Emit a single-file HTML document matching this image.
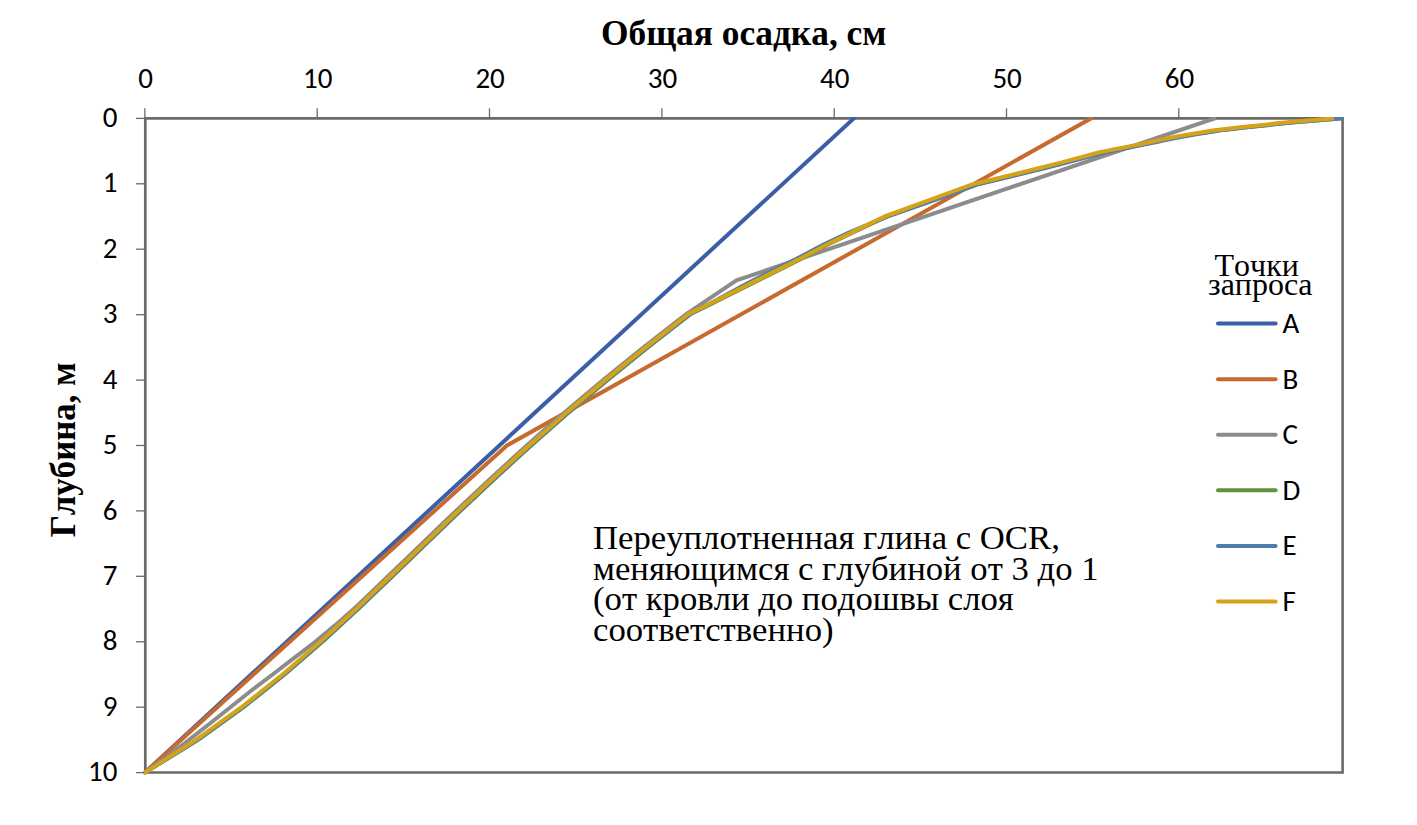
<!DOCTYPE html>
<html><head><meta charset="utf-8"><style>
html,body{margin:0;padding:0;background:#fff;width:1417px;height:825px;overflow:hidden}
svg{display:block}
text{font-kerning:none}
.ax text{font-family:Carlito,"Liberation Sans",sans-serif;font-size:29px;fill:#000}
.lg{font-family:Carlito,"Liberation Sans",sans-serif;font-size:29px;fill:#000}
.ser{font-family:"Liberation Serif","Times New Roman",serif;fill:#000}
</style></head><body>
<svg width="1417" height="825" viewBox="0 0 1417 825">
<rect width="1417" height="825" fill="#fff"/>
<g stroke="#6A6A6A" stroke-width="1.3"><line x1="144.9" y1="108.3" x2="144.9" y2="118.4"/><line x1="317.2" y1="108.3" x2="317.2" y2="118.4"/><line x1="489.5" y1="108.3" x2="489.5" y2="118.4"/><line x1="661.9" y1="108.3" x2="661.9" y2="118.4"/><line x1="834.2" y1="108.3" x2="834.2" y2="118.4"/><line x1="1006.5" y1="108.3" x2="1006.5" y2="118.4"/><line x1="1178.8" y1="108.3" x2="1178.8" y2="118.4"/><line x1="136" y1="118.4" x2="145.3" y2="118.4"/><line x1="136" y1="183.8" x2="145.3" y2="183.8"/><line x1="136" y1="249.2" x2="145.3" y2="249.2"/><line x1="136" y1="314.7" x2="145.3" y2="314.7"/><line x1="136" y1="380.1" x2="145.3" y2="380.1"/><line x1="136" y1="445.5" x2="145.3" y2="445.5"/><line x1="136" y1="510.9" x2="145.3" y2="510.9"/><line x1="136" y1="576.3" x2="145.3" y2="576.3"/><line x1="136" y1="641.8" x2="145.3" y2="641.8"/><line x1="136" y1="707.2" x2="145.3" y2="707.2"/><line x1="136" y1="772.6" x2="145.3" y2="772.6"/></g>

<g stroke="#6A6A6A" fill="none">
<line x1="145.3" y1="118.4" x2="1342.6" y2="118.4" stroke-width="2.6"/>
<line x1="145.3" y1="117.1" x2="145.3" y2="773.7" stroke-width="2.7"/>
<line x1="1342.6" y1="117.1" x2="1342.6" y2="773.7" stroke-width="2.6"/>
<line x1="145.3" y1="772.5" x2="1342.6" y2="772.5" stroke-width="2.4"/>
</g>
<defs><clipPath id="pc"><rect x="143.6" y="116.9" width="1200.5" height="657.3"/></clipPath></defs>
<g fill="none" stroke-linejoin="round" stroke-linecap="square" stroke-width="4" clip-path="url(#pc)">
<path d="M144.9,772.6 L853.8,118.4" stroke="#3B5FA6"/>
<path d="M144.9,772.6 L506.9,445.5 L1091.0,118.4" stroke="#C66A2D"/>
<path d="M144.9,772.6 L167.8,756.2 L189.0,739.9 L209.9,723.5 L230.4,707.2 L251.1,690.8 L272.6,674.5 L293.9,658.1 L315.3,641.8 L335.0,625.4 L353.6,609.1 L370.9,592.7 L388.0,576.3 L405.0,560.0 L421.9,543.6 L438.9,527.3 L456.0,510.9 L473.3,494.6 L490.9,478.2 L508.7,461.9 L526.8,445.5 L545.3,429.1 L564.2,412.8 L583.4,396.4 L603.1,380.1 L623.1,363.7 L643.5,347.4 L686.9,313.6 L736.4,280.4 L1214.5,118.4" stroke="#8C8C8C"/>
<path d="M1338.8,118.4 L1323.6,119.7 L1308.4,121.0 L1293.2,122.3 L1280.6,123.6 L1267.9,124.9 L1255.4,126.3 L1242.9,127.6 L1230.4,128.9 L1218.9,130.2 L1211.3,131.5 L1203.6,132.8 L1195.1,134.1 L1186.7,135.4 L1179.3,136.7 L1172.9,138.0 L1166.6,139.3 L1160.4,140.6 L1154.2,142.0 L1147.9,143.3 L1141.6,144.6 L1135.1,145.9 L1128.5,147.2 L1122.0,148.5 L1115.4,149.8 L1108.9,151.1 L1102.9,152.3 L1063.5,162.9 L1045.1,167.5 L1003.4,177.8 L978.3,183.8 L975.1,184.6 L932.6,200.2 L886.7,216.5 L886.5,216.6 L851.9,232.9 L828.1,244.5 L819.3,249.2 L801.3,258.8 L787.7,265.6 L755.1,282.0 L752.6,283.2 L722.5,298.3 L709.2,305.0 L691.2,313.6 L647.8,347.4 L607.4,380.1 L568.5,412.8 L531.2,445.5 L495.3,478.2 L460.5,510.9 L426.4,543.6 L392.5,576.3 L358.1,609.1 L322.5,641.8 L284.6,674.5 L243.6,707.2 L198.1,739.9 L144.9,772.6" stroke="#5F933E"/>
<path d="M1340.9,118.4 L1325.6,119.7 L1310.3,121.0 L1295.1,122.3 L1282.3,123.6 L1269.6,124.9 L1257.2,126.3 L1244.8,127.6 L1232.4,128.9 L1221.0,130.2 L1213.4,131.5 L1205.8,132.8 L1197.5,134.1 L1189.2,135.4 L1181.8,136.7 L1175.5,138.0 L1169.2,139.3 L1163.0,140.6 L1156.7,142.0 L1150.4,143.3 L1144.1,144.6 L1137.6,145.9 L1131.0,147.2 L1124.4,148.5 L1117.9,149.8 L1111.3,151.1 L1105.4,152.3 L1065.7,162.9 L1047.3,167.5 L1005.5,177.8 L980.3,183.8 L977.1,184.6 L934.4,200.2 L887.2,216.5 L887.0,216.6 L848.3,232.9 L823.6,244.5 L814.6,249.2 L796.6,258.8 L782.9,265.6 L750.0,282.0 L747.5,283.2 L719.8,298.3 L707.7,305.0 L690.4,313.6 L647.2,347.4 L606.7,380.1 L567.8,412.8 L530.5,445.5 L494.6,478.2 L459.8,510.9 L425.7,543.6 L391.8,576.3 L357.5,609.1 L321.8,641.8 L284.0,674.5 L242.9,707.2 L197.4,739.9 L144.9,772.6" stroke="#4F7DAB"/>
<path d="M1331.9,118.4 L1317.0,119.7 L1302.2,121.0 L1287.4,122.3 L1275.0,123.6 L1262.7,124.9 L1250.4,126.3 L1238.1,127.6 L1225.7,128.9 L1214.4,130.2 L1206.9,131.5 L1199.4,132.8 L1191.2,134.1 L1182.9,135.4 L1175.7,136.7 L1169.4,138.0 L1163.2,139.3 L1157.0,140.6 L1150.7,142.0 L1144.5,143.3 L1138.2,144.6 L1131.6,145.9 L1125.1,147.2 L1118.5,148.5 L1112.0,149.8 L1105.5,151.1 L1099.5,152.3 L1060.0,162.9 L1041.6,167.5 L1000.0,177.8 L974.9,183.8 L971.6,184.6 L929.2,200.2 L884.6,216.5 L884.4,216.6 L850.9,232.9 L827.0,244.5 L818.1,249.2 L800.0,258.8 L786.3,265.6 L753.4,282.0 L750.9,283.2 L720.7,298.3 L707.3,305.0 L689.1,313.6 L645.8,347.4 L605.3,380.1 L566.5,412.8 L529.1,445.5 L493.2,478.2 L458.4,510.9 L424.4,543.6 L390.5,576.3 L356.1,609.1 L320.4,641.8 L282.6,674.5 L241.5,707.2 L196.0,739.9 L144.9,772.6" stroke="#D6A318"/>
</g>
<g class="ax"><g text-anchor="middle"><text x="145.5" y="88">0</text><text x="317.8" y="88">10</text><text x="490.1" y="88">20</text><text x="662.5" y="88">30</text><text x="834.8" y="88">40</text><text x="1007.1" y="88">50</text><text x="1179.4" y="88">60</text></g><g text-anchor="end"><text x="117.5" y="127.0">0</text><text x="117.5" y="192.4">1</text><text x="117.5" y="257.8">2</text><text x="117.5" y="323.3">3</text><text x="117.5" y="388.7">4</text><text x="117.5" y="454.1">5</text><text x="117.5" y="519.5">6</text><text x="117.5" y="584.9">7</text><text x="117.5" y="650.4">8</text><text x="117.5" y="715.8">9</text><text x="117.5" y="781.2">10</text></g></g>
<line x1="1218" y1="323.6" x2="1275.6" y2="323.6" stroke="#3B5FA6" stroke-width="4" stroke-linecap="round"/><text x="1282.5" y="332.9" class="lg">A</text><line x1="1218" y1="379.2" x2="1275.6" y2="379.2" stroke="#C66A2D" stroke-width="4" stroke-linecap="round"/><text x="1282.5" y="388.5" class="lg">B</text><line x1="1218" y1="434.8" x2="1275.6" y2="434.8" stroke="#8C8C8C" stroke-width="4" stroke-linecap="round"/><text x="1282.5" y="444.1" class="lg">C</text><line x1="1218" y1="490.3" x2="1275.6" y2="490.3" stroke="#5F933E" stroke-width="4" stroke-linecap="round"/><text x="1282.5" y="499.6" class="lg">D</text><line x1="1218" y1="545.9" x2="1275.6" y2="545.9" stroke="#4F7DAB" stroke-width="4" stroke-linecap="round"/><text x="1282.5" y="555.2" class="lg">E</text><line x1="1218" y1="601.5" x2="1275.6" y2="601.5" stroke="#D6A318" stroke-width="4" stroke-linecap="round"/><text x="1282.5" y="610.8" class="lg">F</text>
<text class="ser" x="601" y="45" font-size="35.4" font-weight="bold">Общая осадка, см</text>
<text class="ser" transform="translate(74.8,537.3) rotate(-90)" font-size="34.8" font-weight="bold">Глубина, м</text>
<text class="ser" x="1214.5" y="275.7" font-size="32">Точки</text>
<text class="ser" x="1208" y="294.5" font-size="32">запроса</text>
<g class="ser" font-size="34.7">
<text x="593" y="548.8">Переуплотненная глина с OCR,</text>
<text x="593" y="579.5">меняющимся с глубиной от 3 до 1</text>
<text x="593" y="610.2">(от кровли до подошвы слоя</text>
<text x="593" y="640.9">соответственно)</text>
</g>
</svg>
</body></html>
